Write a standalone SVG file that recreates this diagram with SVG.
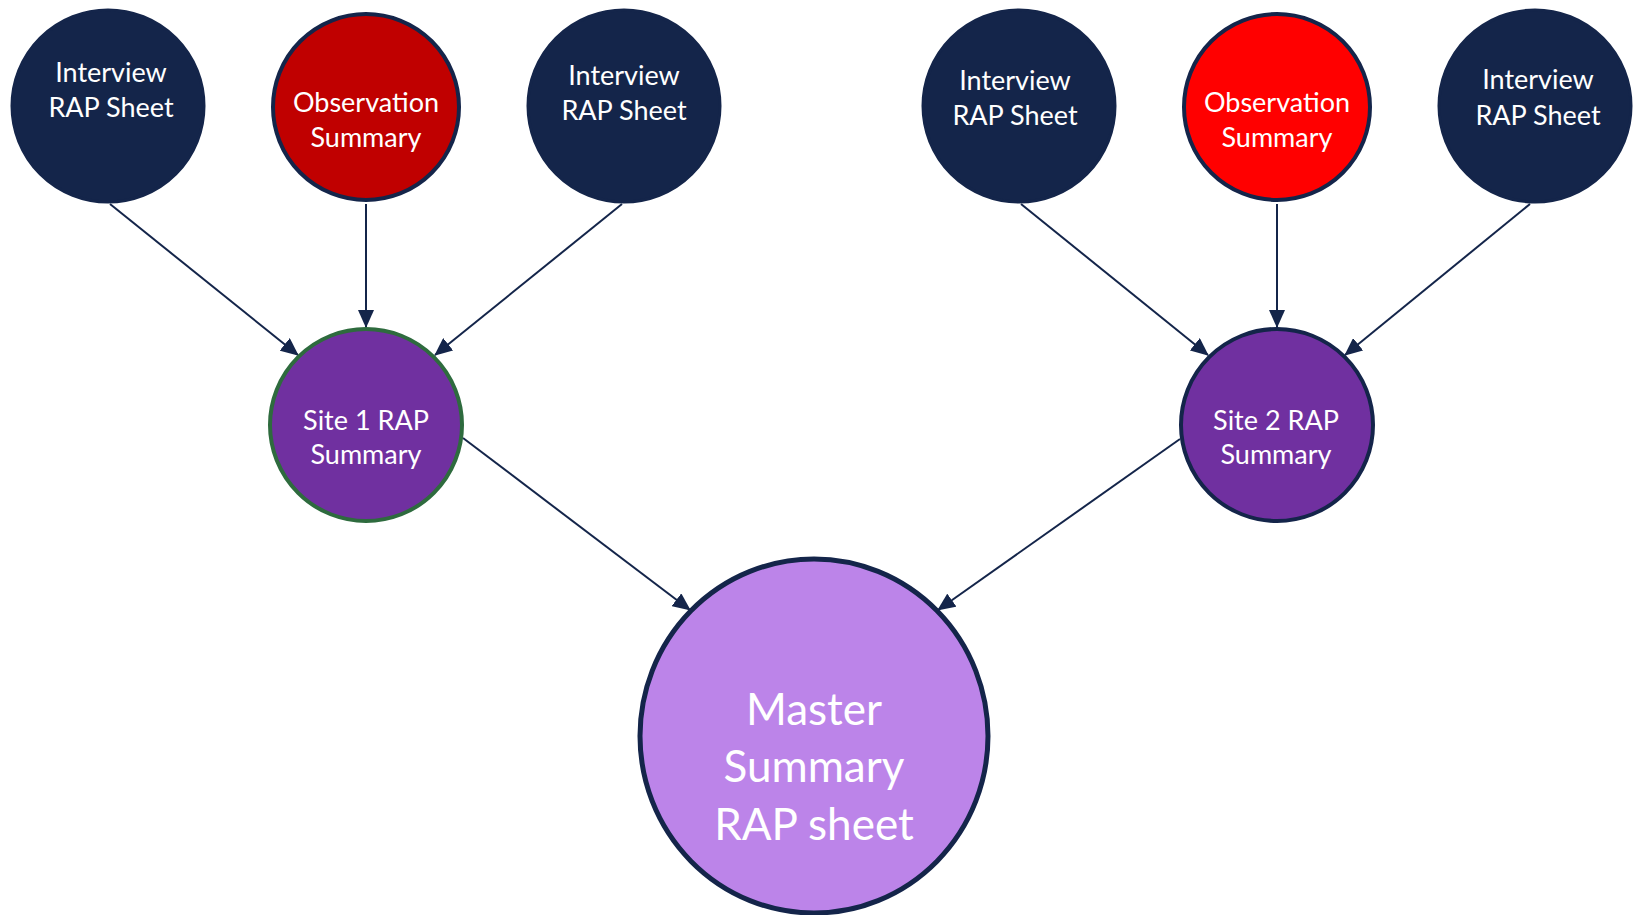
<svg xmlns="http://www.w3.org/2000/svg" width="1634" height="915" viewBox="0 0 1634 915">
  <style>
    .lbl { font-family: Lato, "Open Sans", "Liberation Sans", sans-serif; fill: #ffffff; text-anchor: middle; font-size: 27px; }
    .big { font-size: 44px; }
    .navy { fill: #14254A; stroke: #14254A; stroke-width: 3; }
    .obs1 { fill: #C00000; stroke: #14254A; stroke-width: 4; }
    .obs2 { fill: #FF0000; stroke: #14254A; stroke-width: 4; }
    .site1 { fill: #7030A0; stroke: #2E6B3E; stroke-width: 4; }
    .site2 { fill: #7030A0; stroke: #14254A; stroke-width: 4; }
    .master { fill: #BC84E9; stroke: #14254A; stroke-width: 5; }
    .edge { stroke: #14254A; stroke-width: 2; fill: none; marker-end: url(#arrow); }
  </style>
  <defs>
    <marker id="arrow" markerUnits="userSpaceOnUse" markerWidth="18" markerHeight="16" viewBox="0 0 18 16" refX="17" refY="8" orient="auto">
      <path d="M0,0 L18,8 L0,16 Z" fill="#14254A"/>
    </marker>
  </defs>
  <rect width="1634" height="915" fill="#ffffff"/>

  <g id="connectors">
    <line class="edge" x1="110" y1="204" x2="298" y2="355"/>
    <line class="edge" x1="366" y1="204" x2="366" y2="327"/>
    <line class="edge" x1="622" y1="204" x2="435" y2="355"/>
    <line class="edge" x1="1021" y1="204" x2="1208" y2="355"/>
    <line class="edge" x1="1277" y1="204" x2="1277" y2="327"/>
    <line class="edge" x1="1530" y1="204" x2="1345" y2="355"/>
    <line class="edge" x1="463" y1="438" x2="690" y2="610"/>
    <line class="edge" x1="1180" y1="439" x2="938" y2="610"/>
  </g>

  <g id="interview-1">
    <circle class="navy" cx="108" cy="106" r="96"/>
    <text class="lbl" x="111" y="82">Interview</text>
    <text class="lbl" x="111" y="117">RAP Sheet</text>
  </g>
  <g id="observation-1">
    <circle class="obs1" cx="366" cy="107" r="93"/>
    <text class="lbl" x="366" y="112">Observation</text>
    <text class="lbl" x="366" y="147">Summary</text>
  </g>
  <g id="interview-2">
    <circle class="navy" cx="624" cy="106" r="96"/>
    <text class="lbl" x="624" y="85">Interview</text>
    <text class="lbl" x="624" y="120">RAP Sheet</text>
  </g>
  <g id="interview-3">
    <circle class="navy" cx="1019" cy="106" r="96"/>
    <text class="lbl" x="1015" y="90">Interview</text>
    <text class="lbl" x="1015" y="125">RAP Sheet</text>
  </g>
  <g id="observation-2">
    <circle class="obs2" cx="1277" cy="107" r="93"/>
    <text class="lbl" x="1277" y="112">Observation</text>
    <text class="lbl" x="1277" y="147">Summary</text>
  </g>
  <g id="interview-4">
    <circle class="navy" cx="1535" cy="106" r="96"/>
    <text class="lbl" x="1538" y="89">Interview</text>
    <text class="lbl" x="1538" y="125">RAP Sheet</text>
  </g>

  <g id="site-1">
    <circle class="site1" cx="366" cy="425" r="96"/>
    <text class="lbl" x="366" y="430">Site 1 RAP</text>
    <text class="lbl" x="366" y="464">Summary</text>
  </g>
  <g id="site-2">
    <circle class="site2" cx="1277" cy="425" r="96"/>
    <text class="lbl" x="1276" y="430">Site 2 RAP</text>
    <text class="lbl" x="1276" y="464">Summary</text>
  </g>

  <g id="master">
    <ellipse class="master" cx="814" cy="736" rx="174" ry="177"/>
    <text class="lbl big" x="814" y="725">Master</text>
    <text class="lbl big" x="814" y="782">Summary</text>
    <text class="lbl big" x="814" y="840">RAP sheet</text>
  </g>
</svg>
